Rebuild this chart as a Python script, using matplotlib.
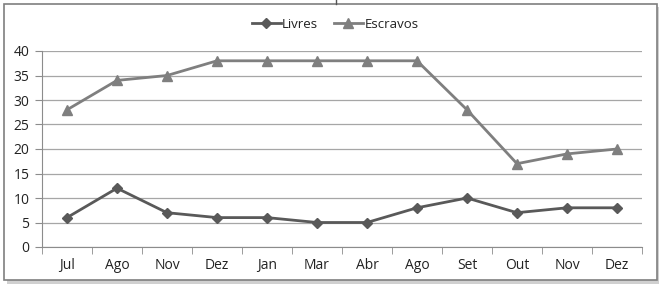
import matplotlib.pyplot as plt
from matplotlib.patches import Rectangle
from matplotlib.lines import Line2D

months = ["Jul", "Ago", "Nov", "Dez", "Jan", "Mar", "Abr", "Ago", "Set", "Out", "Nov", "Dez"]
livres = [6, 12, 7, 6, 6, 5, 5, 8, 10, 7, 8, 8]
escravos = [28, 34, 35, 38, 38, 38, 38, 38, 28, 17, 19, 20]

plt.rcParams['font.family'] = ['Open Sans', 'DejaVu Sans']

fig = plt.figure(figsize=(6.62, 2.85), dpi=100)
W, H = 662, 285

# chart frame with a light shadow
fig.patches.append(Rectangle((7 / W, 1 - 284 / H), 652 / W, 277 / H, transform=fig.transFigure,
                             facecolor="#d0d0d0", edgecolor="none", zorder=0))
fig.patches.append(Rectangle((4 / W, 1 - 280 / H), 653 / W, 276 / H, transform=fig.transFigure,
                             facecolor="white", edgecolor="#7f7f7f", linewidth=1.2, zorder=1))
fig.lines.append(Line2D([336 / W, 336 / W], [1, 1 - 4 / H], transform=fig.transFigure,
                        color="#555555", linewidth=1))

ax = fig.add_axes([42 / W, 1 - 247 / H, 600 / W, 196 / H])
ax.set_zorder(2)
ax.patch.set_alpha(0)

x = range(len(months))
ax.plot(x, livres, color="#595959", linewidth=2, marker="D", markersize=5.5, label="Livres")
ax.plot(x, escravos, color="#7f7f7f", linewidth=2, marker="^", markersize=7, label="Escravos")

ax.set_xlim(-0.5, len(months) - 0.5)
ax.set_ylim(0, 40)
ax.set_yticks(range(0, 41, 5))
ax.set_xticks(x)
ax.set_xticklabels(months)
ax.set_xticks([i - 0.5 for i in range(len(months) + 1)], minor=True)
ax.tick_params(axis="x", which="major", length=0, pad=8, labelsize=10, colors="#222222")
ax.tick_params(axis="x", which="minor", length=5, color="#8c8c8c")
ax.tick_params(axis="y", length=5, color="#8c8c8c", labelsize=10, labelcolor="#222222", pad=4)
ax.grid(axis="y", color="#a6a6a6", linewidth=0.9)
ax.set_axisbelow(True)
for s in ["top", "right"]:
    ax.spines[s].set_visible(False)
for s in ["left", "bottom"]:
    ax.spines[s].set_color("#8c8c8c")

ax.legend(loc="center", bbox_to_anchor=(335 / W, 1 - 24 / H), bbox_transform=fig.transFigure,
          ncol=2, frameon=False, fontsize=9.5, handlelength=2.2, handletextpad=0.1,
          columnspacing=1.2, labelcolor="#222222")

fig.savefig("out.png", dpi=100)
